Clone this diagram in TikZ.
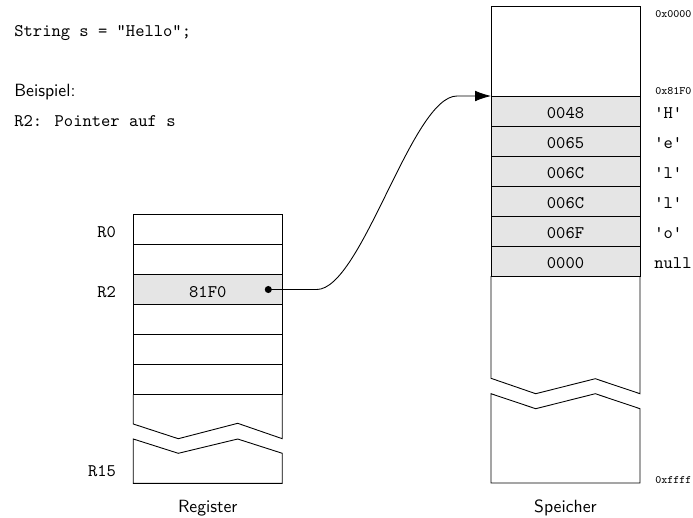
\documentclass[tikz,border=0pt]{standalone}
\usetikzlibrary{arrows.meta,calc}
\begin{document}
\begin{tikzpicture}[x=0.5645pt,y=-0.5645pt,
  ln/.style={draw=black, line width=0.5pt},
  cellbox/.style={ln, minimum width=84.11pt, minimum height=16.94pt, inner sep=0pt, outer sep=0pt,
    font=\ttfamily, text height=8.8pt, text depth=0pt},
  shaded/.style={cellbox, fill=black!10},
  ttlab/.style={inner sep=0pt, font=\ttfamily},
  addr/.style={inner sep=0pt, font=\ttfamily\fontsize{6.4}{8}\selectfont, anchor=base west},
  caption/.style={inner sep=0pt, font=\sffamily, anchor=base}]
\useasboundingbox (0,0) rectangle (693,517);

% texts at top left
\node[ttlab, anchor=base west] (code) at (14,36) {String s = "Hello";};
\node[inner sep=0pt, font=\sffamily, anchor=base west] (bsp) at (14,96.7) {Beispiel:};
\node[ttlab, anchor=base west] (ptr) at (14,126.7) {R2: Pointer auf s};

% register file
\node[cellbox] (r0) at (207.8,229.5) {};
\node[cellbox] (r1) at (207.8,259.5) {};
\node[shaded]  (r2) at (207.8,289.5) {81F0};
\node[cellbox] (r3) at (207.8,319.5) {};
\node[cellbox] (r4) at (207.8,349.5) {};
\node[cellbox] (r5) at (207.8,379.5) {};
\draw[ln] (r5.south west) -- (133.3,424) -- (178.3,438.7) -- (237.7,423.3) -- (282.3,438.7) -- (r5.south east);
\draw[ln] (133.3,439) -- (178.3,453.3) -- (237.7,439) -- (282.3,453.3) -- (282.3,483.3) -- (133.3,483.3) -- cycle;

\node[ttlab, anchor=base east] (l0) at ($(r0.west)+(-17,8.2)$) {R0};
\node[ttlab, anchor=base east] (l2) at ($(r2.west)+(-17,7.8)$) {R2};
\node[ttlab, anchor=base east] (l15) at (116.3,476.5) {R15};
\node[caption] (regcap) at (207.8,512.7) {Register};

% memory
\node[cellbox, minimum height=50.81pt] (mtop) at (565.5,51) {};
\node[shaded] (m0) at (565.5,111) {0048};
\node[shaded] (m1) at (565.5,141) {0065};
\node[shaded] (m2) at (565.5,171) {006C};
\node[shaded] (m3) at (565.5,201) {006C};
\node[shaded] (m4) at (565.5,231) {006F};
\node[shaded] (m5) at (565.5,261) {0000};
\draw[ln] (m5.south west) -- (491,378.3) -- (535.7,393.7) -- (595.3,378.7) -- (640,393.7) -- (m5.south east);
\draw[ln] (491,393.7) -- (535.7,408.7) -- (595.3,393.7) -- (640,408.7) -- (640,483) -- (491,483) -- cycle;

\foreach \n/\t in {m0/'H', m1/'e', m2/'l', m3/'l', m4/'o', m5/null}{
  \node[ttlab, anchor=base west] (c\n) at ($(\n.east)+(14,7.8)$) {\t};
}
\node[addr] (a0) at (655,17.5) {0x0000};
\node[addr] (a1) at (655,94) {0x81F0};
\node[addr] (a2) at (655,483) {0xffff};
\node[caption] (memcap) at (565.5,512.7) {Speicher};

% pointer
\coordinate (dot) at ($(r2.east)+(-14,0)$);
\fill (dot) circle (2pt);
\draw[line width=0.5pt, -{Latex[length=9pt,width=6pt]}]
  (dot) -- ++(48.4,0) .. controls +(45,0) and +(-45,0) .. ($(m0.north west)+(-34,0)$) -- (m0.north west);
\end{tikzpicture}
\end{document}
